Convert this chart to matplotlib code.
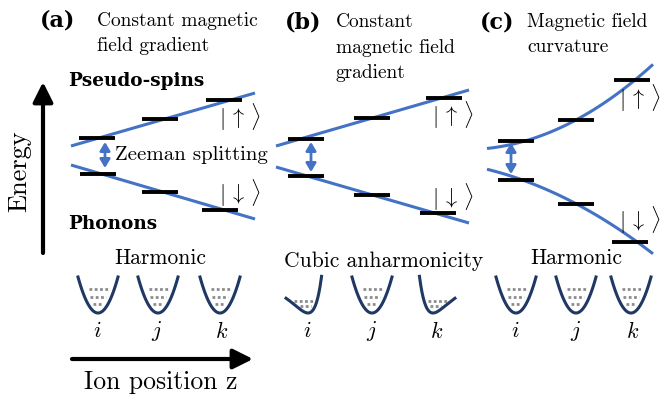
import numpy as np
import matplotlib
matplotlib.use('Agg')
import matplotlib.pyplot as plt

plt.rcParams['mathtext.fontset'] = 'cm'
plt.rcParams['font.family'] = ['cmr10', 'DejaVu Serif']
plt.rcParams['axes.formatter.use_mathtext'] = True

blue = '#4472c4'
navy = '#1f3864'
grey = '#8c8c8c'

# energy levels (bar centre x, bar y) for the three panels
a_up_x = [97, 160, 224]
a_up_y = [138, 119, 100]
a_dn_x = [98, 160, 220]
a_dn_y = [174, 192, 210]
b_up_x = [306, 372, 444]
b_up_y = [139, 118, 98]
b_dn_x = [306, 372, 438]
b_dn_y = [176, 195, 213]
c_up_x = [516, 576, 632]
c_up_y = [141, 120, 80]
c_dn_x = [516, 576, 630]
c_dn_y = [180, 204, 242]
bar_w = 36

# blue Zeeman lines
a_line_x = [71, 255]
a_line_up = [146, 93]
a_line_dn = [165, 219]
b_line_x = [276, 469]
b_line_up = [146, 90]
b_line_dn = [167, 223]
c_curve_up_x = [487, 527, 577, 632, 653]
c_curve_up_y = [148, 141, 120, 80, 66]
c_curve_dn_x = [487, 520, 580, 633, 653]
c_curve_dn_y = [169, 180, 204, 242, 252]

# double arrows for the splitting (x, y top, y bottom)
split_x = [105, 311, 511]
split_top = [142, 142, 143]
split_bot = [168, 172, 174]

# phonon wells
well_x = [98, 158, 220, 308, 372, 433, 516, 576, 631]
well_kind = ['h', 'h', 'h', 'soft_left', 'h', 'soft_right', 'h', 'h', 'h']
ion_lbl_x = [97, 157, 222, 307, 372, 437, 515, 576, 633]
ion_lbl = ['i', 'j', 'k'] * 3
well_bottom = 313
well_depth = 37

fig = plt.figure(figsize=(6.6, 3.96), dpi=100)
ax = fig.add_axes([0, 0, 1, 1])
ax.set_xlim(0, 660)
ax.set_ylim(396, 0)
ax.axis('off')

# straight lines (a), (b)
for lx, lu, ld in [(a_line_x, a_line_up, a_line_dn), (b_line_x, b_line_up, b_line_dn)]:
    ax.plot(lx, lu, color=blue, lw=2.2, solid_capstyle='butt')
    ax.plot(lx, ld, color=blue, lw=2.2, solid_capstyle='butt')

# curved lines (c)
for cx, cy in [(c_curve_up_x, c_curve_up_y), (c_curve_dn_x, c_curve_dn_y)]:
    p = np.polyfit(cx, cy, 2)
    xs = np.linspace(cx[0], cx[-1], 100)
    ax.plot(xs, np.polyval(p, xs), color=blue, lw=2.2, solid_capstyle='butt')

# level bars
for xs, ys in [(a_up_x, a_up_y), (a_dn_x, a_dn_y), (b_up_x, b_up_y),
               (b_dn_x, b_dn_y), (c_up_x, c_up_y), (c_dn_x, c_dn_y)]:
    for x, y in zip(xs, ys):
        ax.plot([x - bar_w / 2, x + bar_w / 2], [y, y], color='black', lw=2.8,
                solid_capstyle='butt', zorder=3)

for x, yt, yb in zip(split_x, split_top, split_bot):
    ax.annotate('', xy=(x, yt), xytext=(x, yb),
                arrowprops=dict(arrowstyle='<|-|>,head_length=0.5,head_width=0.3',
                                mutation_scale=10, color=blue, lw=2,
                                shrinkA=0, shrinkB=0))


def well(x0, kind):
    if kind == 'h':
        u = np.linspace(-20, 20, 80)
        v = 0.09 * u ** 2
    else:
        s = 1 if kind == 'soft_left' else -1
        u = np.linspace(-40, 40, 400)
        v = 30 * (1 - np.exp(s * 0.055 * u)) ** 2
        keep = (v <= well_depth) & (s * u > -22)
        u, v = u[keep], v[keep]
    return x0 + u, well_bottom - v, u, v


for x0, kind in zip(well_x, well_kind):
    xs, ys, u, v = well(x0, kind)
    ax.plot(xs, ys, color=navy, lw=2.2, zorder=3)
    rises = [9, 16, 24] if kind == 'h' else [7, 12]
    for r in rises:
        inside = u[v <= r]
        lo, hi = inside.min(), inside.max()
        if kind == 'h':
            hw = min(9.5, hi - 5)
            lo, hi = -hw, hw
        else:
            lo, hi = lo + 4, hi - 4
        ax.plot([x0 + lo, x0 + hi], [well_bottom - r] * 2, color=grey, lw=2,
                ls=(0, (1, 0.9)), zorder=2)

for x, s in zip(ion_lbl_x, ion_lbl):
    ax.text(x, 331, '$%s$' % s, fontsize=16, ha='center', va='center')

# axes arrows
ax.annotate('', xy=(43, 82), xytext=(43, 253),
            arrowprops=dict(arrowstyle='-|>,head_length=0.6,head_width=0.3',
                            mutation_scale=20, color='black', lw=3,
                            shrinkA=0, shrinkB=0))
ax.annotate('', xy=(253, 359), xytext=(72, 359),
            arrowprops=dict(arrowstyle='-|>,head_length=0.6,head_width=0.3',
                            mutation_scale=20, color='black', lw=3,
                            shrinkA=0, shrinkB=0))
ax.text(19, 171, 'Energy', fontsize=19, rotation=90, ha='center', va='center')
ax.text(161, 382, 'Ion position z', fontsize=18.5, ha='center', va='center')

# titles
bold = dict(family='DejaVu Serif', weight='bold')
ax.text(40, 21, '(a)', fontsize=16, va='center', **bold)
ax.text(97, 21, 'Constant magnetic', fontsize=14, va='center')
ax.text(97, 46, 'field gradient', fontsize=14, va='center')
ax.text(285, 22, '(b)', fontsize=16, va='center', **bold)
ax.text(336, 22, 'Constant', fontsize=14, va='center')
ax.text(336, 48, 'magnetic field', fontsize=14, va='center')
ax.text(336, 73, 'gradient', fontsize=14, va='center')
ax.text(480, 22, '(c)', fontsize=16, va='center', **bold)
ax.text(527, 22, 'Magnetic field', fontsize=14, va='center')
ax.text(527, 47, 'curvature', fontsize=14, va='center')

ax.text(68, 81, 'Pseudo-spins', fontsize=13.3, va='center', **bold)
ax.text(68, 224, 'Phonons', fontsize=13.3, va='center', **bold)
ax.text(115, 155, 'Zeeman splitting', fontsize=15, va='center')

for x, y in [(240, 117), (453, 115), (640, 98)]:
    ax.text(x, y, r'$|\,\uparrow\,\rangle$', fontsize=16, ha='center', va='center')
for x, y in [(240, 193), (453, 197), (640, 220)]:
    ax.text(x, y, r'$|\,\downarrow\,\rangle$', fontsize=16, ha='center', va='center')

ax.text(160, 258, 'Harmonic', fontsize=15.5, ha='center', va='center')
ax.text(384, 261, 'Cubic anharmonicity', fontsize=15.5, ha='center', va='center')
ax.text(576, 258, 'Harmonic', fontsize=15.5, ha='center', va='center')

fig.savefig('out.png', dpi=100)
